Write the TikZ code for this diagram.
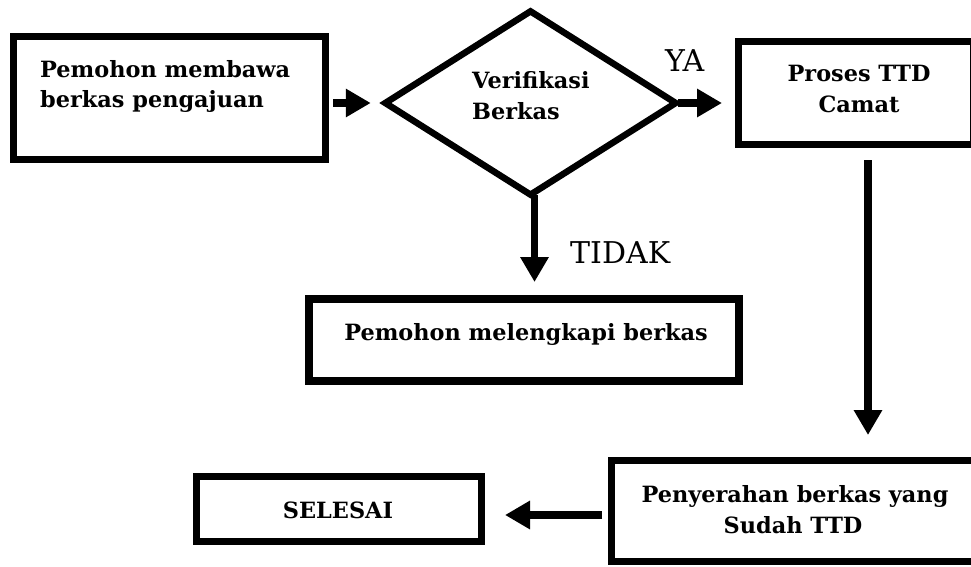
\documentclass[tikz,border=0pt]{standalone}
\usepackage{fontspec}
\setmainfont{DejaVu Serif}
\usetikzlibrary{arrows.meta,shapes.geometric,calc}
\tikzset{
  box/.style={draw=black, line width=7pt, inner sep=0pt, fill=none},
  btxt/.style={inner sep=0pt, font=\fontsize{22.4}{26}\selectfont\bfseries},
  lbl/.style={inner sep=0pt, font=\fontsize{30}{33}\selectfont},
  arr/.style={line width=7.5pt, -{Triangle[length=25pt,width=27pt]}},
}
\begin{document}
\begin{tikzpicture}[x=1pt,y=-1pt]
\useasboundingbox (0,0) rectangle (971,567);
\clip (0,0) rectangle (971,567);
% boxes
\node[box, minimum width=312pt, minimum height=123pt] (b1) at (169.5,98) {};
\node[box, line width=6.5pt, shape=diamond, minimum width=293pt, minimum height=186pt] (d) at (530.5,103) {};
\node[box, minimum width=235pt, minimum height=103pt] (b3) at (856,93) {};
\node[box, line width=8pt, minimum width=430pt, minimum height=82pt] (b4) at (524,340) {};
\node[box, minimum width=366.5pt, minimum height=101pt] (b5) at (794.75,511) {};
\node[box, minimum width=285pt, minimum height=65pt] (b6) at (339,509) {};
% texts
\node[btxt, anchor=base west] (t1a) at (40,78) {Pemohon membawa};
\node[btxt, anchor=base west] (t1b) at (40,108) {berkas pengajuan};
\node[btxt, anchor=base west] (tda) at (472,89) {Verifikasi};
\node[btxt, anchor=base west] (tdb) at (472,120) {Berkas};
\node[btxt, anchor=base] (t3a) at (859,82) {Proses TTD};
\node[btxt, anchor=base] (t3b) at (859,113) {Camat};
\node[btxt, anchor=base] (t4) at (526,340) {Pemohon melengkapi berkas};
\node[btxt, anchor=base] (t5a) at (795,502) {Penyerahan berkas yang};
\node[btxt, anchor=base] (t5b) at (793,533) {Sudah TTD};
\node[btxt, anchor=base] (t6) at (338,518) {SELESAI};
\node[lbl, anchor=base west] (ya) at (665,72) {YA};
\node[lbl, anchor=base west] (tidak) at (570,263) {TIDAK};
% connectors
\draw[arr, shorten <=4pt, shorten >=10pt] (b1.east |- d.west) -- (d.west);
\draw[arr, shorten <=-2pt, shorten >=13pt] (d.east) -- (d.east -| b3.west);
\draw[arr, shorten <=-4pt, shorten >=13pt] ([xshift=4pt]d.south) -- ([xshift=4pt]d.south |- b4.north);
\draw[arr, shorten <=12pt, shorten >=22pt] ([xshift=12pt]b3.south) -- ([xshift=73.25pt]b5.north);
\draw[arr, shorten <=6pt, shorten >=20pt] ([yshift=-4pt]b5.west) -- ([yshift=-4pt]b5.west -| b6.east);
\end{tikzpicture}
\end{document}
